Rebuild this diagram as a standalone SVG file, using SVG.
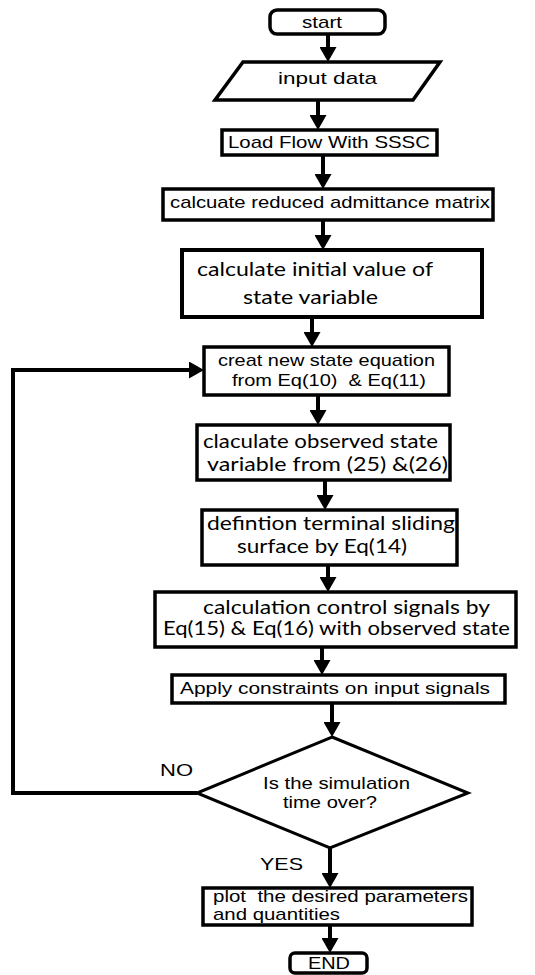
<svg xmlns="http://www.w3.org/2000/svg" width="535" height="975" viewBox="0 0 535 975">
<defs>
<marker id="ah" markerUnits="userSpaceOnUse" markerWidth="15" markerHeight="17" refX="0" refY="8.5" orient="auto">
<path d="M0,0 L15,8.5 L0,17 z" fill="#000"/>
</marker>
<style>
.box{fill:#fff;stroke:#000;stroke-width:3.5}
.con{fill:none;stroke:#000;stroke-width:4;marker-end:url(#ah)}
.ln{fill:none;stroke:#000;stroke-width:4}
.a{font-family:"Liberation Sans",Arial,sans-serif;font-size:17px;fill:#000}
.c{font-family:Lato,"Open Sans",sans-serif;font-size:19px;fill:#000}
</style>
</defs>
<rect width="535" height="975" fill="#fff"/>
<g id="connectors">
<line class="con" x1="328" y1="34" x2="328" y2="47"/>
<line class="con" x1="318" y1="100" x2="318" y2="115"/>
<line class="con" x1="323" y1="155" x2="323" y2="174"/>
<line class="con" x1="323" y1="220" x2="323" y2="235"/>
<line class="con" x1="312" y1="317" x2="312" y2="332"/>
<line class="con" x1="318" y1="395" x2="318" y2="410"/>
<line class="con" x1="325" y1="480" x2="325" y2="495"/>
<line class="con" x1="328" y1="565" x2="328" y2="577"/>
<line class="con" x1="322" y1="647" x2="322" y2="660"/>
<line class="con" x1="332" y1="703" x2="332" y2="722"/>
<line class="con" x1="330" y1="848" x2="330" y2="873"/>
<line class="con" x1="330" y1="925" x2="330" y2="938"/>
<polyline class="con" points="197,793 13,793 13,370 189,370"/>
</g>
<g id="start">
<rect class="box" x="270" y="10" width="115" height="24" rx="7"/>
<text class="a" x="302" y="28" textLength="40" lengthAdjust="spacingAndGlyphs">start</text>
</g>
<g id="input">
<polygon class="box" points="243,62 440,62 413,100 215,100"/>
<text class="a" x="278" y="84" font-size="19" textLength="99" lengthAdjust="spacingAndGlyphs">input data</text>
</g>
<g id="loadflow">
<rect class="box" x="222" y="130" width="215" height="25"/>
<text class="a" x="228" y="148" textLength="202" lengthAdjust="spacingAndGlyphs">Load Flow With SSSC</text>
</g>
<g id="reduced">
<rect class="box" x="163" y="189" width="330" height="31"/>
<text class="a" x="170" y="208" font-size="16" textLength="320" lengthAdjust="spacingAndGlyphs">calcuate reduced admittance matrix</text>
</g>
<g id="initial">
<rect class="box" x="182" y="250" width="300" height="67" style="stroke-width:4"/>
<text class="c" x="197" y="276" font-size="20" textLength="236" lengthAdjust="spacingAndGlyphs">calculate initial value of</text>
<text class="c" x="243" y="304" font-size="20" textLength="135" lengthAdjust="spacingAndGlyphs">state variable</text>
</g>
<g id="creat">
<rect class="box" x="204" y="347" width="245" height="48"/>
<text class="a" x="218" y="366" textLength="217" lengthAdjust="spacingAndGlyphs">creat new state equation</text>
<text class="a" x="232" y="386" textLength="194" lengthAdjust="spacingAndGlyphs" xml:space="preserve">from Eq(10)  &amp; Eq(11)</text>
</g>
<g id="observed">
<rect class="box" x="197" y="425" width="253" height="55"/>
<text class="c" x="203" y="448" textLength="235" lengthAdjust="spacingAndGlyphs">claculate observed state</text>
<text class="c" x="207" y="471" textLength="241" lengthAdjust="spacingAndGlyphs">variable from (25) &amp;(26)</text>
</g>
<g id="sliding">
<rect class="box" x="202" y="510" width="255" height="55"/>
<text class="c" x="207" y="530" textLength="248" lengthAdjust="spacingAndGlyphs">defintion terminal sliding</text>
<text class="c" x="237" y="553" textLength="170" lengthAdjust="spacingAndGlyphs">surface by Eq(14)</text>
</g>
<g id="control">
<rect class="box" x="155" y="592" width="361" height="55"/>
<text class="c" x="203" y="614" textLength="287" lengthAdjust="spacingAndGlyphs">calculation control signals by</text>
<text class="c" x="163" y="635" textLength="347" lengthAdjust="spacingAndGlyphs">Eq(15) &amp; Eq(16) with observed state</text>
</g>
<g id="constraints">
<rect class="box" x="172" y="675" width="333" height="28"/>
<text class="a" x="180" y="694" textLength="310" lengthAdjust="spacingAndGlyphs">Apply constraints on input signals</text>
</g>
<g id="decision">
<polygon class="box" points="332,737 468,793 330,848 197,793" style="stroke-width:3"/>
<text class="a" x="263" y="789" textLength="147" lengthAdjust="spacingAndGlyphs">Is the simulation</text>
<text class="a" x="283" y="808" textLength="94" lengthAdjust="spacingAndGlyphs">time over?</text>
</g>
<g id="labels">
<text class="a" x="160" y="776" textLength="33" lengthAdjust="spacingAndGlyphs">NO</text>
<text class="a" x="260" y="870" textLength="43" lengthAdjust="spacingAndGlyphs">YES</text>
</g>
<g id="plot">
<rect class="box" x="203" y="888" width="269" height="37"/>
<text class="a" x="213" y="902" font-size="15" textLength="255" lengthAdjust="spacingAndGlyphs" xml:space="preserve">plot  the desired parameters</text>
<text class="a" x="213" y="920" font-size="15" textLength="127" lengthAdjust="spacingAndGlyphs">and quantities</text>
</g>
<g id="end">
<rect class="box" x="290" y="953" width="77" height="20" rx="5"/>
<text class="a" x="308" y="969" textLength="42" lengthAdjust="spacingAndGlyphs">END</text>
</g>
</svg>
